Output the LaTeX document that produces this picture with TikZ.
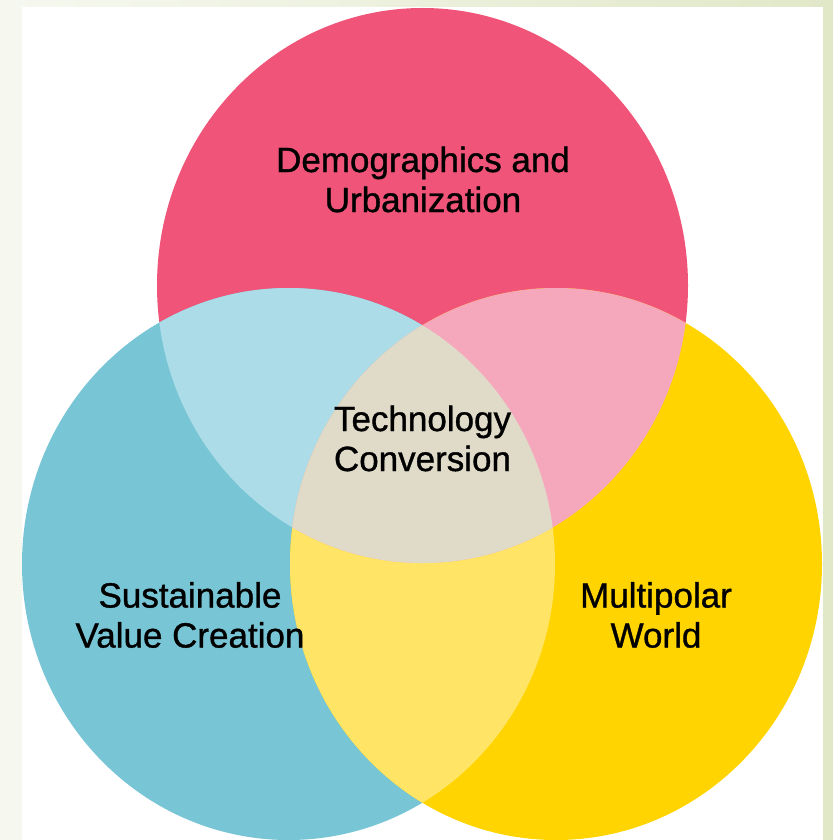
\documentclass[tikz,border=0pt]{standalone}
\usepackage{fontspec}
\setmainfont{Liberation Sans}[FakeBold=1]
\definecolor{demopink}{HTML}{F05579}
\definecolor{valueblue}{HTML}{77C5D5}
\definecolor{worldyellow}{HTML}{FFD400}
\definecolor{bluepink}{HTML}{ACDCE7}
\definecolor{pinkyellow}{HTML}{F5A8BC}
\definecolor{blueyellow}{HTML}{FFE466}
\definecolor{techbeige}{HTML}{E0DBC9}
\definecolor{bgleft}{HTML}{F6F8F0}
\definecolor{bgright}{HTML}{E1E8C8}
\def\democircle{(422.5,285.5) ellipse [x radius=265.5, y radius=277.5]}
\def\valuecircle{(288.5,564) ellipse [x radius=266.5, y radius=276]}
\def\worldcircle{(556,564) ellipse [x radius=266, y radius=276]}
\begin{document}
\begin{tikzpicture}[x=1pt, y=-1pt,
   every node/.style={font=\fontsize{35}{40}\selectfont, align=center, inner sep=0pt}]
\useasboundingbox (0,0) rectangle (833,840);
\shade[left color=bgleft, right color=bgright] (0,0) rectangle (833,840);
\fill[white] (22,7) rectangle (823,840);
\fill[demopink] \democircle;
\fill[valueblue] \valuecircle;
\fill[worldyellow] \worldcircle;
\begin{scope}
  \clip \valuecircle;
  \fill[bluepink] \democircle;
  \fill[blueyellow] \worldcircle;
\end{scope}
\begin{scope}
  \clip \worldcircle;
  \fill[pinkyellow] \democircle;
\end{scope}
\begin{scope}
  \clip \valuecircle;
  \clip \worldcircle;
  \fill[techbeige] \democircle;
\end{scope}
\node (demo)  at (423,179.5) {Demographics and\\Urbanization};
\node (tech)  at (422.5,438.5) {Technology\\Conversion};
\node (value) at (190,615) {Sustainable\\Value Creation};
\node (world) at (656,615) {Multipolar\\World};
\end{tikzpicture}
\end{document}
